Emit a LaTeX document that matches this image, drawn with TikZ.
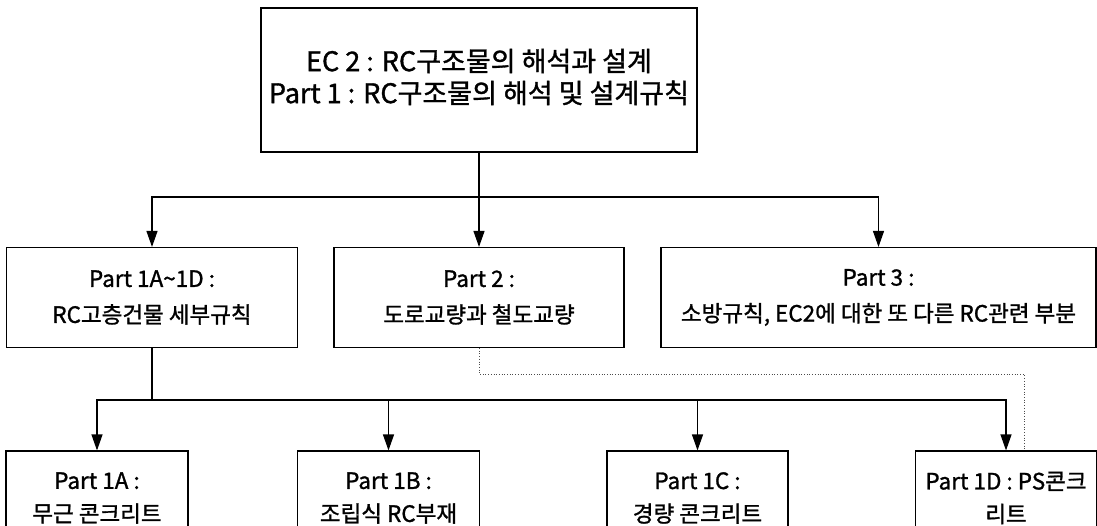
\documentclass[tikz,border=0pt]{standalone}
\usepackage{fontspec}
\newfontfamily\kr[FakeBold=1.2]{Noto Sans CJK KR}
\usetikzlibrary{arrows.meta}
\begin{document}
\begin{tikzpicture}[x=1pt,y=-1pt,
  box/.style={draw, line width=1.1pt, inner sep=0pt, align=center, text=black, anchor=center},
  bigtxt/.style={font=\kr\fontsize{27}{32}\selectfont},
  midtxt/.style={font=\kr\fontsize{22.5}{36}\selectfont},
  lowtxt/.style={font=\kr\fontsize{22.5}{33}\selectfont},
  arr/.style={line width=1.1pt, -{Triangle[length=16pt,width=11pt]}},
  conn/.style={line width=1.1pt},
  dotconn/.style={line width=0.7pt, dotted, black!70}]
\useasboundingbox (0,0) rectangle (1097,526);
\begin{scope}
\clip (0,0) rectangle (1097,526);
% top
\node[box, minimum width=436pt, minimum height=144pt] (top) at (479,80) {};
\node[bigtxt, align=center, inner sep=0pt] (toptxt) at (479,77)
  {EC 2 : RC구조물의 해석과 설계\\Part 1 : RC구조물의 해석 및 설계규칙};
% middle row
\node[box, midtxt, minimum width=291pt, minimum height=100pt] (p1) at (152,297.5)
  {Part 1A\textasciitilde 1D :\\RC고층건물 세부규칙};
\node[box, midtxt, minimum width=290pt, minimum height=100pt] (p2) at (479,297.5)
  {Part 2 :\\도로교량과 철도교량};
\node[box, midtxt, minimum width=435pt, minimum height=100pt] (p3) at (878.5,297.5)
  {Part 3 :\\소방규칙, EC2에 대한 또 다른 RC관련 부분};
% bottom row
\node[box, lowtxt, minimum width=182pt, minimum height=94pt] (b1) at (97,498)
  {Part 1A :\\무근 콘크리트};
\node[box, lowtxt, minimum width=182pt, minimum height=94pt] (b2) at (388.5,498)
  {Part 1B :\\조립식 RC부재};
\node[box, lowtxt, minimum width=181pt, minimum height=94pt] (b3) at (697.5,498)
  {Part 1C :\\경량 콘크리트};
\node[box, lowtxt, minimum width=181pt, minimum height=94pt] (b4) at (1006,498)
  {Part 1D : PS콘크\\리트};
% connectors
\coordinate (j1) at (479,197);
\coordinate (j2) at (152,400);
\draw[conn] (top.south) -- (j1);
\draw[arr] (j1) -| (p1.north);
\draw[arr] (j1) -- (p2.north);
\draw[arr] (j1) -| (p3.north);
\draw[conn] (p1.south) -- (j2);
\draw[arr] (j2) -| (b1.north);
\draw[arr] (j2) -| (b2.north);
\draw[arr] (j2) -| (b3.north);
\draw[arr] (j2) -| (b4.north);
\coordinate (d1) at (479,374);
\coordinate (d2) at (1024,374);
\draw[dotconn] (p2.south) -- (d1) -- (d2) -- (d2 |- b4.north);
\end{scope}
\end{tikzpicture}
\end{document}
